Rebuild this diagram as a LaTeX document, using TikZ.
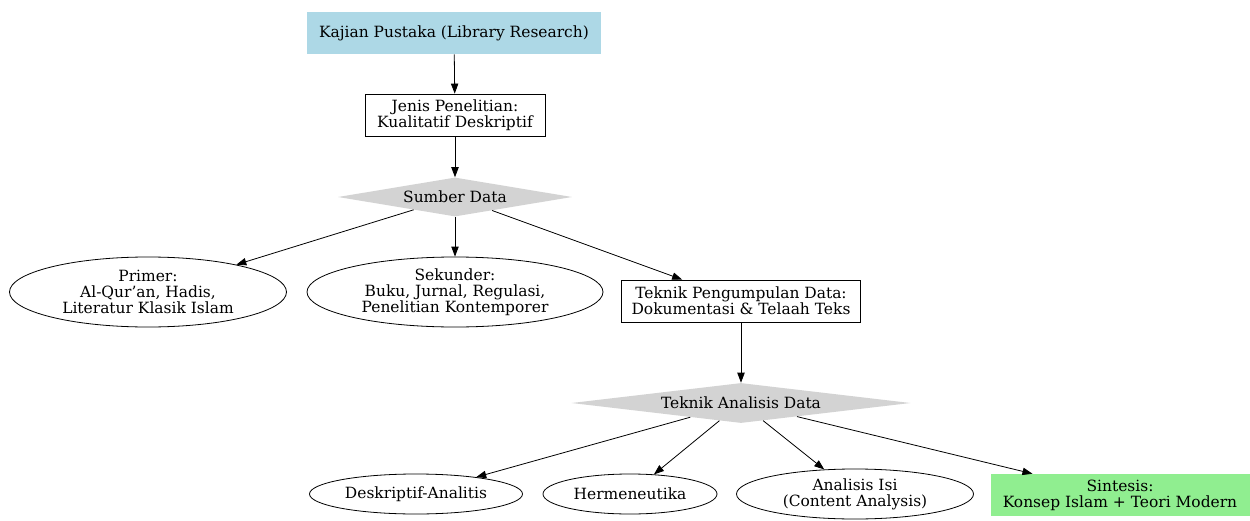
\documentclass[tikz,border=0pt]{standalone}
\usepackage{fontspec}
\setmainfont{DejaVu Serif}
\usepackage{xcolor}
\usetikzlibrary{shapes,arrows.meta,positioning}

\definecolor{kajianblue}{HTML}{ADD8E6}
\definecolor{sintesisgreen}{HTML}{90EE90}
\definecolor{diamondgray}{HTML}{D3D3D3}

\begin{document}
\begin{tikzpicture}[x=0.75pt,y=-0.75pt,
  every node/.style={font=\fontsize{11.6}{12}\selectfont, align=center, inner sep=0pt},
  box/.style={rectangle, draw, line width=0.6pt, minimum height=31.5pt},
  filledbox/.style={rectangle, minimum height=31.5pt},
  oval/.style={ellipse, draw, line width=0.6pt},
  choice/.style={diamond, fill=diamondgray, aspect=8},
  arr/.style={-{Triangle[length=7.5pt,width=5.5pt]}, line width=0.6pt}]
\useasboundingbox (0,0) rectangle (1250,521);

\node[filledbox, fill=kajianblue, minimum width=220.5pt] (kajian) at (454,33) {Kajian Pustaka (Library Research)};
\node[box, minimum width=135pt] (jenis) at (455,115) {Jenis Penelitian:\\Kualitatif Deskriptif};
\node[choice, minimum width=175.5pt, minimum height=29.25pt] (sumber) at (455,197) {Sumber Data};

\node[oval, minimum width=207.75pt, minimum height=52.5pt] (primer) at (148,292) {Primer:\\Al-Qur'an, Hadis,\\Literatur Klasik Islam};
\node[oval, minimum width=222pt, minimum height=52.5pt] (sekunder) at (455,292) {Sekunder:\\Buku, Jurnal, Regulasi,\\Penelitian Kontemporer};
\node[box, minimum width=179.25pt] (pengumpulan) at (741,301) {Teknik Pengumpulan Data:\\Dokumentasi \& Telaah Teks};

\node[choice, minimum width=254.25pt, minimum height=30pt] (analisis) at (741,403) {Teknik Analisis Data};

\node[oval, minimum width=159.75pt, minimum height=30pt] (deskriptif) at (416,494) {Deskriptif-Analitis};
\node[oval, minimum width=130.5pt, minimum height=30pt] (hermeneutika) at (630,494) {Hermeneutika};
\node[oval, minimum width=177.75pt, minimum height=37.5pt] (isi) at (855,494) {Analisis Isi\\(Content Analysis)};
\node[filledbox, fill=sintesisgreen, minimum width=194.25pt] (sintesis) at (1120,495) {Sintesis:\\Konsep Islam + Teori Modern};

\draw[arr] (kajian) -- (jenis);
\draw[arr] (jenis) -- (sumber);
\draw[arr] (sumber) -- (primer);
\draw[arr] (sumber) -- (sekunder);
\draw[arr] (sumber) -- (pengumpulan);
\draw[arr] (pengumpulan) -- (analisis);
\draw[arr] (analisis) -- (deskriptif);
\draw[arr] (analisis) -- (hermeneutika);
\draw[arr] (analisis) -- (isi);
\draw[arr] (analisis) -- (sintesis);
\end{tikzpicture}
\end{document}
